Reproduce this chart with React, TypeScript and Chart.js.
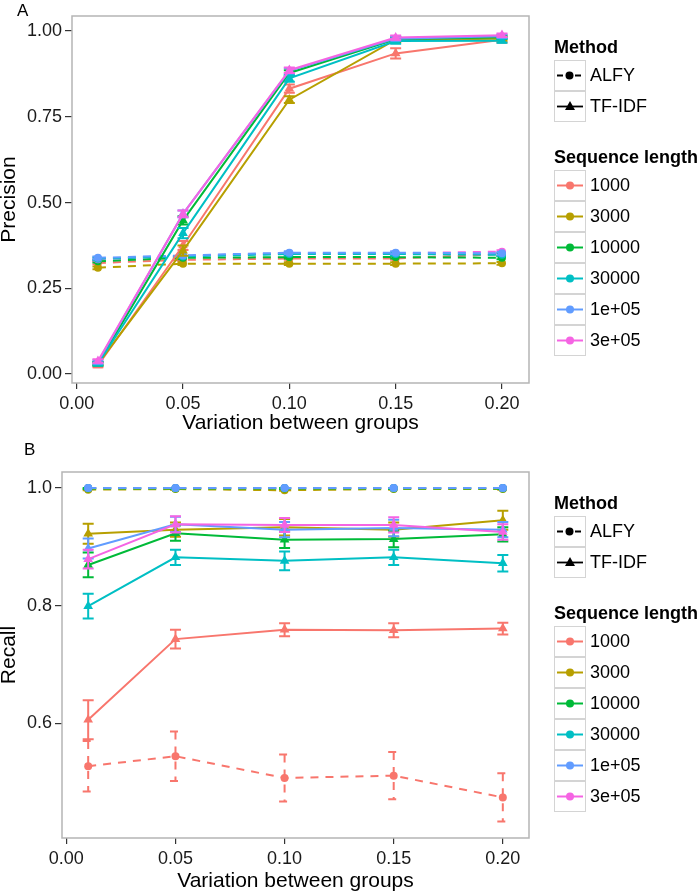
import React, { useEffect, useRef } from 'react';
import { Chart, registerables } from 'chart.js';

Chart.register(...registerables);

// ---------------- data ----------------
const xValues = [0.01, 0.05, 0.1, 0.15, 0.2];
const xTicks = [0, 0.05, 0.1, 0.15, 0.2];
const seqLengths = ['1000', '3000', '10000', '30000', '1e+05', '3e+05'];
const seqColors = ['#F8766D', '#B79F00', '#00BA38', '#00BFC4', '#619CFF', '#F564E3'];
const methods = ['ALFY', 'TF-IDF'];

const precisionTicks = [0, 0.25, 0.5, 0.75, 1];
const recallTicks = [0.6, 0.8, 1.0];

// Precision, ALFY (rows follow seqLengths)
const precisionAlfy = [
  [0.324, 0.333, 0.337, 0.337, 0.350],
  [0.310, 0.322, 0.322, 0.322, 0.323],
  [0.329, 0.339, 0.341, 0.341, 0.339],
  [0.336, 0.343, 0.350, 0.350, 0.348],
  [0.339, 0.346, 0.354, 0.354, 0.352],
  [0.335, 0.345, 0.352, 0.352, 0.357],
];
const precisionAlfyErr = [
  [0.004, 0.004, 0.004, 0.004, 0.004],
  [0.004, 0.004, 0.004, 0.004, 0.004],
  [0.004, 0.004, 0.004, 0.004, 0.004],
  [0.004, 0.004, 0.004, 0.004, 0.004],
  [0.004, 0.004, 0.004, 0.004, 0.004],
  [0.004, 0.004, 0.004, 0.004, 0.004],
];
// Precision, TF-IDF
const precisionTfidf = [
  [0.025, 0.375, 0.832, 0.935, 0.975],
  [0.030, 0.360, 0.800, 0.975, 0.978],
  [0.030, 0.448, 0.878, 0.976, 0.982],
  [0.030, 0.411, 0.862, 0.971, 0.972],
  [0.035, 0.467, 0.884, 0.978, 0.985],
  [0.038, 0.467, 0.886, 0.981, 0.988],
];
const precisionTfidfErr = [
  [0.005, 0.013, 0.012, 0.015, 0.008],
  [0.005, 0.015, 0.010, 0.008, 0.006],
  [0.005, 0.012, 0.008, 0.006, 0.005],
  [0.005, 0.015, 0.010, 0.008, 0.006],
  [0.005, 0.010, 0.008, 0.006, 0.005],
  [0.005, 0.010, 0.008, 0.006, 0.005],
];

// Recall, ALFY
const recallAlfy = [
  [0.527, 0.544, 0.507, 0.511, 0.474],
  [0.997, 0.998, 0.996, 0.998, 0.998],
  [0.999, 0.999, 0.999, 0.999, 0.999],
  [1.000, 1.000, 1.000, 1.000, 1.000],
  [1.000, 1.000, 1.000, 1.000, 1.000],
  [1.000, 1.000, 1.000, 1.000, 1.000],
];
const recallAlfyErr = [
  [0.043, 0.042, 0.040, 0.040, 0.041],
  [0.001, 0.001, 0.001, 0.001, 0.001],
  [0.001, 0.001, 0.001, 0.001, 0.001],
  [0.000, 0.000, 0.000, 0.000, 0.000],
  [0.000, 0.000, 0.000, 0.000, 0.000],
  [0.000, 0.000, 0.000, 0.000, 0.000],
];
// Recall, TF-IDF
const recallTfidf = [
  [0.606, 0.743, 0.759, 0.758, 0.761],
  [0.922, 0.929, 0.933, 0.929, 0.945],
  [0.869, 0.923, 0.912, 0.913, 0.921],
  [0.799, 0.882, 0.876, 0.882, 0.872],
  [0.897, 0.938, 0.929, 0.932, 0.929],
  [0.879, 0.938, 0.937, 0.937, 0.925],
];
const recallTfidfErr = [
  [0.033, 0.016, 0.011, 0.012, 0.010],
  [0.017, 0.012, 0.014, 0.012, 0.016],
  [0.021, 0.013, 0.014, 0.014, 0.012],
  [0.021, 0.013, 0.016, 0.013, 0.014],
  [0.017, 0.013, 0.013, 0.014, 0.013],
  [0.016, 0.014, 0.012, 0.013, 0.013],
];

// ---------------- style ----------------
const FONT = '"Liberation Sans", Arial, Helvetica, sans-serif';
const CANVAS_W = 700;
const CANVAS_H = 438;

const errorBarPlugin = {
  id: 'errorBars',
  beforeDatasetDraw(chart: any, args: any) {
    const ds: any = chart.data.datasets[args.index];
    if (!ds.errs) return;
    const ctx = chart.ctx;
    const xs = chart.scales.x;
    const ys = chart.scales.y;
    const cap = 5.5;
    ctx.save();
    ctx.strokeStyle = ds.borderColor;
    ctx.lineWidth = ds.borderWidth;
    ctx.setLineDash(ds.borderDash || []);
    ds.data.forEach((p: any, i: number) => {
      const e = ds.errs[i];
      if (!e) return;
      const px = xs.getPixelForValue(p.x);
      const top = ys.getPixelForValue(p.y + e);
      const bot = ys.getPixelForValue(p.y - e);
      ctx.beginPath();
      ctx.moveTo(px, top);
      ctx.lineTo(px, bot);
      ctx.moveTo(px - cap, top);
      ctx.lineTo(px + cap, top);
      ctx.moveTo(px - cap, bot);
      ctx.lineTo(px + cap, bot);
      ctx.stroke();
    });
    ctx.restore();
  },
};

const panelBorderPlugin = {
  id: 'panelBorder',
  afterDraw(chart: any) {
    const { ctx, chartArea } = chart;
    ctx.save();
    ctx.strokeStyle = '#B5B5B5';
    ctx.lineWidth = 1.5;
    ctx.strokeRect(chartArea.left, chartArea.top, chartArea.right - chartArea.left, chartArea.bottom - chartArea.top);
    ctx.restore();
  },
};

type PanelSpec = {
  yTitle: string;
  yMin: number;
  yMax: number;
  yTicks: number[];
  yDigits: number;
  yAxisWidth: number;
  xAxisHeight: number;
  xMin: number;
  xMax: number;
  alfy: number[][];
  alfyErr: number[][];
  tfidf: number[][];
  tfidfErr: number[][];
  titleBottomPad: number;
};

const panelA: PanelSpec = {
  yTitle: 'Precision',
  yMin: -0.026,
  yMax: 1.044,
  yTicks: precisionTicks,
  yDigits: 2,
  yAxisWidth: 72,
  xAxisHeight: 55,
  xMin: -0.0022,
  xMax: 0.2127,
  alfy: precisionAlfy,
  alfyErr: precisionAlfyErr,
  tfidf: precisionTfidf,
  tfidfErr: precisionTfidfErr,
  titleBottomPad: 5,
};

const panelB: PanelSpec = {
  yTitle: 'Recall',
  yMin: 0.405,
  yMax: 1.027,
  yTicks: recallTicks,
  yDigits: 1,
  yAxisWidth: 62,
  xAxisHeight: 56,
  xMin: -0.002,
  xMax: 0.212,
  alfy: recallAlfy,
  alfyErr: recallAlfyErr,
  tfidf: recallTfidf,
  tfidfErr: recallTfidfErr,
  titleBottomPad: 3,
};

const TFIDF_ORDER = [5, 4, 3, 2, 1, 0];
const ALFY_ORDER = [4, 3, 5, 2, 1, 0];

function buildConfig(p: PanelSpec): any {
  const datasets: any[] = [];
  TFIDF_ORDER.forEach((i) => {
    datasets.push({
      label: `${methods[1]} ${seqLengths[i]}`,
      data: xValues.map((x, j) => ({ x, y: p.tfidf[i][j] })),
      errs: p.tfidfErr[i],
      borderColor: seqColors[i],
      backgroundColor: seqColors[i],
      borderWidth: 2,
      pointStyle: 'triangle',
      pointRadius: 5.6,
      pointBorderWidth: 0,
      tension: 0,
    });
  });
  ALFY_ORDER.forEach((i) => {
    datasets.push({
      label: `${methods[0]} ${seqLengths[i]}`,
      data: xValues.map((x, j) => ({ x, y: p.alfy[i][j] })),
      errs: p.alfyErr[i],
      borderColor: seqColors[i],
      backgroundColor: seqColors[i],
      borderWidth: 2,
      borderDash: [8, 7],
      pointStyle: 'circle',
      pointRadius: 4,
      pointBorderWidth: 0,
      tension: 0,
    });
  });

  const tickFont = { family: FONT, size: 18 };
  return {
    type: 'line',
    data: { datasets },
    options: {
      responsive: false,
      maintainAspectRatio: false,
      animation: false,
      events: [],
      layout: { padding: { top: 16, right: 171, left: 0, bottom: 0 } },
      plugins: { legend: { display: false }, tooltip: { enabled: false } },
      scales: {
        x: {
          type: 'linear',
          min: p.xMin,
          max: p.xMax,
          afterBuildTicks: (s: any) => {
            s.ticks = xTicks.map((v) => ({ value: v }));
          },
          afterFit: (s: any) => {
            s.height = p.xAxisHeight;
          },
          grid: { display: true, drawOnChartArea: false, drawTicks: true, tickLength: 6, color: '#333', lineWidth: 1.2 },
          border: { display: false },
          ticks: {
            callback: (v: any) => Number(v).toFixed(2),
            font: tickFont,
            color: '#1a1a1a',
            padding: 4,
            maxRotation: 0,
            autoSkip: false,
          },
          title: {
            display: true,
            text: 'Variation between groups',
            color: '#000',
            font: { family: FONT, size: 21, lineHeight: '20px' },
            padding: { top: 0, bottom: p.titleBottomPad },
          },
        },
        y: {
          type: 'linear',
          min: p.yMin,
          max: p.yMax,
          afterBuildTicks: (s: any) => {
            s.ticks = p.yTicks.map((v) => ({ value: v }));
          },
          afterFit: (s: any) => {
            s.width = p.yAxisWidth;
          },
          grid: { display: true, drawOnChartArea: false, drawTicks: true, tickLength: 7, color: '#333', lineWidth: 1.2 },
          border: { display: false },
          ticks: {
            callback: (v: any) => Number(v).toFixed(p.yDigits),
            font: tickFont,
            color: '#1a1a1a',
            padding: 3,
            autoSkip: false,
          },
          title: {
            display: true,
            text: p.yTitle,
            color: '#000',
            font: { family: FONT, size: 21, lineHeight: '19px' },
            padding: { top: 0, bottom: 0 },
          },
        },
      },
    },
    plugins: [errorBarPlugin, panelBorderPlugin],
  };
}

function PanelChart({ spec, top }: { spec: PanelSpec; top: number }) {
  const ref = useRef<HTMLCanvasElement | null>(null);
  useEffect(() => {
    if (!ref.current) return;
    const chart = new Chart(ref.current, buildConfig(spec));
    return () => chart.destroy();
  }, [spec]);
  return (
    <canvas
      ref={ref}
      width={CANVAS_W}
      height={CANVAS_H}
      style={{ position: 'absolute', left: 0, top, width: CANVAS_W, height: CANVAS_H }}
    />
  );
}

function KeyBox({ children }: { children: React.ReactNode }) {
  return (
    <svg width={32} height={31} style={{ display: 'block' }}>
      <rect x={0.5} y={0.5} width={31} height={30} fill="#fff" stroke="#D4D4D4" strokeWidth={1} />
      {children}
    </svg>
  );
}

function LegendRow({ label, children }: { label: string; children: React.ReactNode }) {
  return (
    <div style={{ display: 'flex', alignItems: 'center', height: 31 }}>
      <KeyBox>{children}</KeyBox>
      <span style={{ marginLeft: 4, fontSize: 18, lineHeight: '31px', color: '#000' }}>{label}</span>
    </div>
  );
}

function Legend({ top }: { top: number }) {
  return (
    <div style={{ position: 'absolute', left: 554, top, fontFamily: FONT }}>
      <div style={{ fontWeight: 'bold', fontSize: 18, height: 26, lineHeight: '26px', color: '#000' }}>Method</div>
      <LegendRow label={methods[0]}>
        <line x1={3} y1={15.5} x2={27} y2={15.5} stroke="#000" strokeWidth={1.8} strokeDasharray="6 3" />
        <circle cx={15.5} cy={15.5} r={4} fill="#000" />
      </LegendRow>
      <LegendRow label={methods[1]}>
        <line x1={3} y1={15.5} x2={29} y2={15.5} stroke="#000" strokeWidth={1.8} />
        <polygon points="16,10 21,19 11,19" fill="#000" />
      </LegendRow>
      <div style={{ height: 22 }} />
      <div style={{ fontWeight: 'bold', fontSize: 18, height: 26, lineHeight: '26px', color: '#000', whiteSpace: 'nowrap' }}>
        Sequence length
      </div>
      {seqLengths.map((s, i) => (
        <LegendRow key={s} label={s}>
          <line x1={3} y1={15.5} x2={29} y2={15.5} stroke={seqColors[i]} strokeWidth={2} />
          <circle cx={16} cy={15.5} r={4} fill={seqColors[i]} />
        </LegendRow>
      ))}
    </div>
  );
}

export default function App() {
  return (
    <div
      style={{
        position: 'absolute',
        left: 0,
        top: 0,
        width: 700,
        height: 894,
        overflow: 'hidden',
        background: '#fff',
        fontFamily: FONT,
      }}
    >
      <PanelChart spec={panelA} top={0} />
      <PanelChart spec={panelB} top={456} />
      <div style={{ position: 'absolute', left: 17, top: 1.6, fontSize: 17, lineHeight: '17px', color: '#000' }}>A</div>
      <div style={{ position: 'absolute', left: 24, top: 440.6, fontSize: 17, lineHeight: '17px', color: '#000' }}>B</div>
      <Legend top={34} />
      <Legend top={489.7} />
    </div>
  );
}
